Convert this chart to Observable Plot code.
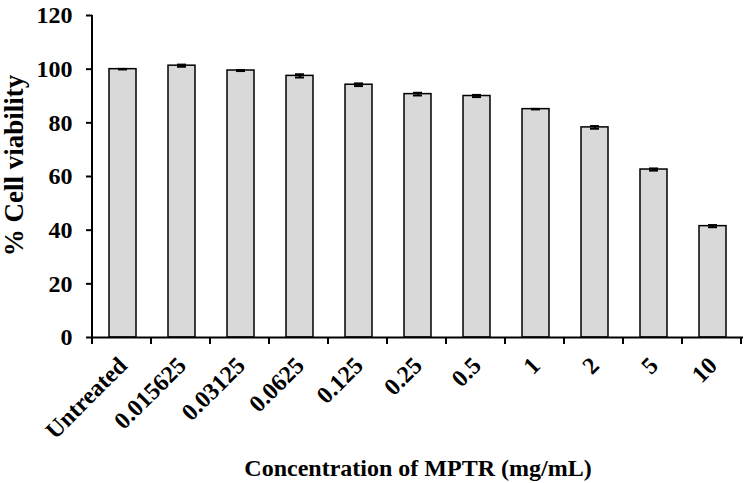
<!DOCTYPE html>
<html>
<head>
<meta charset="utf-8">
<script src="https://cdn.jsdelivr.net/npm/d3@7"></script>
<script src="https://cdn.jsdelivr.net/npm/@observablehq/plot@0.6"></script>
<style>
  body { margin: 0; background: #fff; }
</style>
</head>
<body>
<div id="chart"></div>
<script>
const categories = ["Untreated", "0.015625", "0.03125", "0.0625", "0.125", "0.25", "0.5", "1", "2", "5", "10"];
const viability = [100.0, 101.3, 99.5, 97.5, 94.2, 90.7, 90.0, 85.1, 78.3, 62.6, 41.5];
const errors = [0.1, 0.4, 0.2, 0.6, 0.5, 0.5, 0.4, 0.1, 0.5, 0.4, 0.4];
const yTicks = [0, 20, 40, 60, 80, 100, 120];
const xTitle = "Concentration of MPTR (mg/mL)";
const yTitle = "% Cell viability";

const data = categories.map((c, i) => ({c, v: viability[i], e: errors[i]}));

// axis line + boundary ticks (band-edge ticks like the original)
function axisLines(index, scales, values, dims) {
  const x = scales.x, y = scales.y;
  const step = x(categories[1]) - x(categories[0]);
  const y0 = y(0);
  const g = d3.create("svg:g").attr("stroke", "black").attr("stroke-width", 2);
  g.append("line").attr("x1", dims.marginLeft).attr("x2", dims.marginLeft)
    .attr("y1", y(120)).attr("y2", y0 + 1);
  for (let i = 0; i <= categories.length; i++) {
    const px = dims.marginLeft + i * step;
    g.append("line").attr("x1", px).attr("x2", px).attr("y1", y0).attr("y2", y0 + 7);
  }
  return g.node();
}

const chart = Plot.plot({
  width: 750,
  height: 483,
  marginLeft: 92,
  marginRight: 7,
  marginTop: 15,
  marginBottom: 146,
  style: {fontFamily: "'Liberation Serif', 'Times New Roman', serif", fontWeight: "bold", fontSize: "24px", color: "black", background: "white"},
  x: {domain: categories, paddingInner: 0.55, paddingOuter: 0.275, label: null},
  y: {domain: [0, 120], label: null},
  marks: [
    Plot.barY(data, {x: "c", y: "v", fill: "#d9d9d9", stroke: "black", strokeWidth: 1.5}),
    Plot.ruleX(data, {x: "c", y1: d => d.v - d.e, y2: d => d.v + d.e, stroke: "black", strokeWidth: 2}),
    Plot.tickY(data, {x: "c", y: d => d.v + d.e, stroke: "black", strokeWidth: 2, insetLeft: 9, insetRight: 9}),
    Plot.tickY(data, {x: "c", y: d => d.v - d.e, stroke: "black", strokeWidth: 2, insetLeft: 9, insetRight: 9}),
    Plot.ruleY([0], {stroke: "black", strokeWidth: 2}),
    axisLines,
    Plot.axisY({ticks: yTicks, tickSize: 6, tickPadding: 14, strokeWidth: 2, label: null, fontSize: 24}),
    Plot.axisX({tickSize: 0, tickPadding: 24, tickRotate: -45, label: null, fontSize: 24}),
    Plot.text([xTitle], {frameAnchor: "bottom", dy: 138, fontSize: 24, fontWeight: "bold"}),
    Plot.text([yTitle], {frameAnchor: "left", textAnchor: "middle", dx: -78, dy: -11, rotate: -90, fontSize: 27, fontWeight: "bold"})
  ]
});
document.getElementById("chart").appendChild(chart);
</script>
</body>
</html>
